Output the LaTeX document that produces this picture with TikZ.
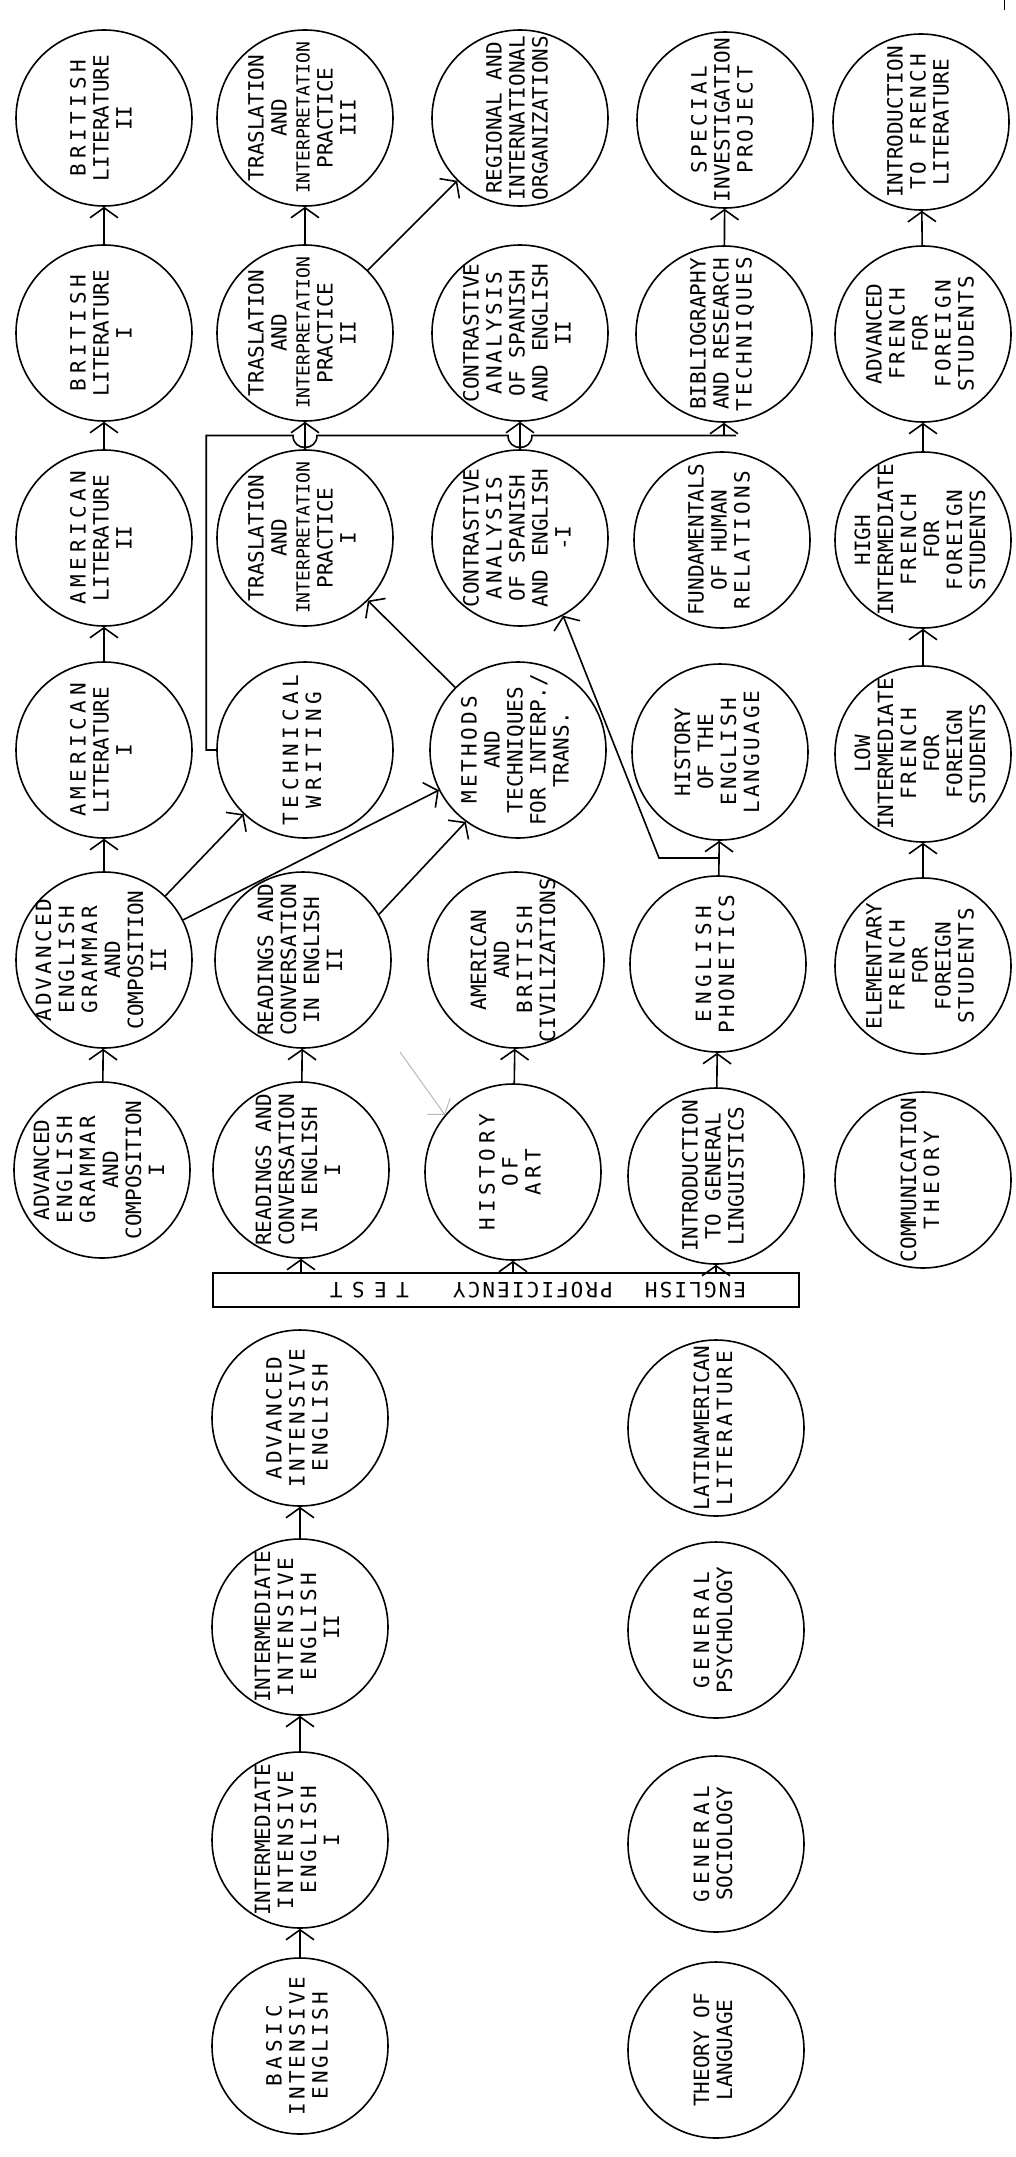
\documentclass[tikz,border=0pt]{standalone}
\usepackage{fontspec}
\usepackage{graphicx}
\usetikzlibrary{arrows.meta,positioning,calc}
\newfontfamily\letterfont{DejaVu Sans Mono}
% rotated label, spaced and narrow words
\newcommand{\vtext}[1]{\rotatebox{90}{\begin{tabular}{@{}c@{}}#1\end{tabular}}}
\newcommand{\lsp}[2][15]{{\addfontfeature{LetterSpace=#1}#2}}
\newcommand{\slim}[1]{{\fontsize{9}{11.5}\selectfont #1}}

\begin{document}
\begin{tikzpicture}[x=0.5pt, y=-0.5pt, line width=0.8pt,
    course/.style={circle, draw, minimum size=88pt, inner sep=-12pt,
      font=\letterfont\fontsize{10.5}{11.5}\selectfont},
    arr/.style={-{Straight Barb[length=5pt,width=14pt]}},
    bar/.style={draw, minimum width=293pt, minimum height=17pt, inner sep=0pt}]
  \useasboundingbox (0,0) rectangle (1016,2157);

  % first column
  \node[course] (brit2) at (104,118) {\vtext{\lsp[22]{BRITISH}\\LITERATURE\\II}};
  \node[course] (brit1) at (104,333) {\vtext{\lsp[22]{BRITISH}\\LITERATURE\\I}};
  \node[course] (amer2) at (104,538) {\vtext{\lsp[22]{AMERICAN}\\LITERATURE\\II}};
  \node[course] (amer1) at (104,750) {\vtext{\lsp[22]{AMERICAN}\\LITERATURE\\I}};
  \node[course] (gram2) at (104,960) {\vtext{\lsp{ADVANCED}\\\lsp{ENGLISH}\\\lsp{GRAMMAR}\\AND\\COMPOSITION\\II}};
  \node[course] (gram1) at (102,1170) {\vtext{ADVANCED\\\lsp{ENGLISH}\\\lsp{GRAMMAR}\\AND\\COMPOSITION\\I}};

  % second column
  \node[course] (trans3) at (305,118) {\vtext{TRASLATION\\AND\\\slim{INTERPRETATION}\\PRACTICE\\III}};
  \node[course] (trans2) at (305,333) {\vtext{TRASLATION\\AND\\\slim{INTERPRETATION}\\PRACTICE\\II}};
  \node[course] (trans1) at (305,538) {\vtext{TRASLATION\\AND\\\slim{INTERPRETATION}\\PRACTICE\\I}};
  \node[course] (tech) at (305,750) {\vtext{\lsp[22]{TECHNICAL}\\\lsp[22]{WRITING}}};
  \node[course] (read2) at (303,960) {\vtext{READINGS AND\\CONVERSATION\\IN ENGLISH\\II}};
  \node[course] (read1) at (301,1170) {\vtext{READINGS AND\\CONVERSATION\\IN ENGLISH\\I}};
  \node[course] (advint) at (300,1418) {\vtext{\lsp{ADVANCED}\\\lsp{INTENSIVE}\\\lsp{ENGLISH}}};
  \node[course] (int2) at (300,1627) {\vtext{INTERMEDIATE\\\lsp{INTENSIVE}\\\lsp{ENGLISH}\\II}};
  \node[course] (int1) at (300,1840) {\vtext{INTERMEDIATE\\\lsp{INTENSIVE}\\\lsp{ENGLISH}\\I}};
  \node[course] (basic) at (300,2046) {\vtext{\lsp[22]{BASIC}\\\lsp{INTENSIVE}\\\lsp{ENGLISH}}};

  % third column
  \node[course] (regional) at (520,118) {\vtext{REGIONAL AND\\INTERNATIONAL\\ORGANIZATIONS}};
  \node[course] (contr2) at (520,333) {\vtext{CONTRASTIVE\\\lsp{ANALYSIS}\\OF SPANISH\\AND ENGLISH\\II}};
  \node[course] (contr1) at (520,538) {\vtext{CONTRASTIVE\\\lsp{ANALYSIS}\\OF SPANISH\\AND ENGLISH\\-I}};
  \node[course] (methods) at (518,750) {\vtext{\lsp{METHODS}\\AND\\TECHNIQUES\\FOR INTERP./\\TRANS.}};
  \node[course] (civ) at (516,960) {\vtext{AMERICAN\\AND\\\lsp{BRITISH}\\CIVILIZATIONS}};
  \node[course] (art) at (513,1172) {\vtext{\lsp[22]{HISTORY}\\\lsp[22]{OF}\\\lsp[22]{ART}}};

  % fourth column
  \node[course] (special) at (725,120) {\vtext{\lsp{SPECIAL}\\INVESTIGATION\\\lsp{PROJECT}}};
  \node[course] (bib) at (724,334) {\vtext{BIBLIOGRAPHY\\AND RESEARCH\\\lsp{TECHNIQUES}}};
  \node[course] (fund) at (722,540) {\vtext{FUNDAMENTALS\\OF HUMAN\\\lsp{RELATIONS}}};
  \node[course] (histeng) at (720,752) {\vtext{HISTORY\\OF THE\\\lsp{ENGLISH}\\\lsp{LANGUAGE}}};
  \node[course] (phon) at (718,964) {\vtext{\lsp[22]{ENGLISH}\\\lsp{PHONETICS}}};
  \node[course] (ling) at (716,1176) {\vtext{INTRODUCTION\\TO GENERAL\\LINGUISTICS}};
  \node[course] (latin) at (716,1428) {\vtext{LATINAMERICAN\\\lsp{LITERATURE}}};
  \node[course] (psych) at (716,1630) {\vtext{\lsp[22]{GENERAL}\\PSYCHOLOGY}};
  \node[course] (socio) at (716,1844) {\vtext{\lsp[22]{GENERAL}\\SOCIOLOGY}};
  \node[course] (theory) at (716,2050) {\vtext{THEORY OF\\LANGUAGE}};

  % fifth column
  \node[course] (frlit) at (921,122) {\vtext{INTRODUCTION\\\lsp{TO FRENCH}\\LITERATURE}};
  \node[course] (fradv) at (923,334) {\vtext{ADVANCED\\\lsp{FRENCH}\\FOR\\\lsp{FOREIGN}\\\lsp[10]{STUDENTS}}};
  \node[course] (frhigh) at (923,540) {\vtext{HIGH\\INTERMEDIATE\\\lsp{FRENCH}\\FOR\\\lsp[10]{FOREIGN}\\STUDENTS}};
  \node[course] (frlow) at (923,754) {\vtext{LOW\\INTERMEDIATE\\\lsp{FRENCH}\\FOR\\FOREIGN\\STUDENTS}};
  \node[course] (frelem) at (923,966) {\vtext{ELEMENTARY\\\lsp{FRENCH}\\FOR\\FOREIGN\\\lsp[10]{STUDENTS}}};
  \node[course] (comm) at (923,1180) {\vtext{COMMUNICATION\\\lsp[22]{THEORY}}};

  % proficiency test bar
  \node[bar] (testbar) at (506,1290) {};
  \node[rotate=180, font=\letterfont\fontsize{10.5}{11.5}\selectfont] (testtext) at (538,1290)
    {\lsp[10]{ENGLISH}\hspace{16pt}\lsp[10]{PROFICIENCY}\hspace{22pt}\lsp[45]{TEST}};
  \foreach \n in {read1, art, ling}
    \draw[arr] (\n |- testbar.north) -- (\n);

  % prerequisites
  \foreach \a/\b in {gram1/gram2, gram2/amer1, amer1/amer2, amer2/brit1, brit1/brit2,
      read1/read2, trans1/trans2, trans2/trans3, contr1/contr2, art/civ, ling/phon,
      phon/histeng, bib/special, frelem/frlow, frlow/frhigh, frhigh/fradv, fradv/frlit,
      basic/int1, int1/int2, int2/advint, gram2/tech, gram2/methods, methods/trans1,
      trans2/regional}
    \draw[arr] (\a) -- (\b);
  \draw[arr] (read2.31) -- (methods.234);

  % phonetics also leads to contrastive analysis
  \path (phon) -- (histeng) coordinate[pos=0.5] (phonjoin);
  \coordinate (phonbend) at ([xshift=-30pt]phonjoin);
  \draw[arr] (phonjoin) -- (phonbend) -- (contr1.299);

  % technical writing to bibliography, jumping the crossings
  \path (trans1) -- (trans2) coordinate[pos=0.5] (tjump);
  \path (contr1) -- (contr2) coordinate[pos=0.5] (cjump);
  \coordinate (techout) at ([xshift=-5pt]tech.west);
  \draw (tech.west) -- (techout) -- (techout |- tjump) -- ([xshift=-6pt]tjump)
    .. controls +(0,-8pt) and +(0,-8pt) .. ([xshift=6pt]tjump) -- ([xshift=-6pt]cjump)
    .. controls +(0,-8pt) and +(0,-8pt) .. ([xshift=6pt]cjump) -- ([xshift=6pt]bib |- tjump);
  \draw[arr] (bib |- tjump) -- (bib);

  % faint stray arrow and corner mark
  \coordinate (stray) at (400,1052);
  \draw[arr, gray!55, line width=0.5pt] (stray) -- (art.140);
  \draw[line width=0.5pt] (1004,0) -- (1004,10);
\end{tikzpicture}
\end{document}
